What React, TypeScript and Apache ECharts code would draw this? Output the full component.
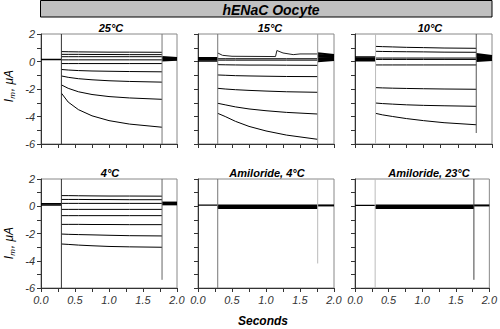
import React, { useEffect, useRef } from 'react';
import * as echarts from 'echarts';

// ---------- data ----------
const panelTitles = ['25°C', '15°C', '10°C', '4°C', 'Amiloride, 4°C', 'Amiloride, 23°C'];
const mainTitle = 'hENaC Oocyte';
const xName = 'Seconds';

// 25 °C
const hold25 = [0.15];
const t25 = [0.3, 0.4, 0.55, 0.75, 1.0, 1.3, 1.78];
const traces25 = [
  [0.72, 0.71, 0.7, 0.69, 0.68, 0.68, 0.67],
  [0.52, 0.52, 0.52, 0.51, 0.51, 0.5, 0.5],
  [0.35, 0.35, 0.35, 0.35, 0.35, 0.35, 0.35],
  [0.12, 0.12, 0.12, 0.12, 0.12, 0.12, 0.12],
  [-0.15, -0.15, -0.15, -0.15, -0.15, -0.15, -0.15],
  [-0.58, -0.62, -0.66, -0.69, -0.71, -0.73, -0.75],
  [-1.05, -1.15, -1.25, -1.33, -1.4, -1.45, -1.5],
  [-1.7, -1.95, -2.2, -2.4, -2.55, -2.65, -2.75],
  [-2.3, -2.95, -3.5, -3.95, -4.3, -4.55, -4.78],
];
const tailStart25 = [0.32, 0.24, 0.16, 0.08];
const tailEnd25 = [0.26, 0.21, 0.17, 0.12];
const onRange25 = [2, -6];
const offRange25 = [2, -6];

// 15 °C
const hold15 = [0.28, 0.2, 0.12, 0.04];
const t15 = [0.29, 0.4, 0.55, 0.75, 1.0, 1.3, 1.76];
const traces15 = [
  [0.2, 0.2, 0.2, 0.2, 0.2, 0.2, 0.2],
  [0.1, 0.1, 0.1, 0.1, 0.1, 0.1, 0.1],
  [-0.23, -0.24, -0.25, -0.26, -0.26, -0.27, -0.28],
  [-0.98, -1.0, -1.03, -1.05, -1.07, -1.09, -1.1],
  [-1.95, -2.0, -2.05, -2.1, -2.15, -2.2, -2.24],
  [-3.04, -3.15, -3.3, -3.45, -3.58, -3.7, -3.82],
  [-3.77, -4.0, -4.35, -4.72, -5.05, -5.35, -5.66],
];
const noisyT15 = [0.29, 0.36, 0.5, 1.14, 1.16, 1.25, 1.4, 1.5, 1.76];
const noisyV15 = [0.62, 0.45, 0.38, 0.36, 0.8, 0.62, 0.5, 0.55, 0.55];
const tailStart15 = [0.6, 0.48, 0.36, 0.24, 0.12, 0.02];
const tailEnd15 = [0.48, 0.4, 0.32, 0.25, 0.17, 0.1];
const onRange15 = [2, -6];
const offRange15 = [2, -6];

// 10 °C
const hold10 = [0.33, 0.24, 0.15, 0.06];
const t10 = [0.3, 0.4, 0.55, 0.75, 1.0, 1.3, 1.77];
const traces10 = [
  [1.1, 1.08, 1.06, 1.03, 1.01, 0.98, 0.96],
  [0.74, 0.73, 0.72, 0.71, 0.7, 0.68, 0.67],
  [0.25, 0.25, 0.25, 0.25, 0.25, 0.25, 0.25],
  [0.15, 0.15, 0.15, 0.15, 0.15, 0.15, 0.15],
  [-0.25, -0.25, -0.25, -0.25, -0.25, -0.25, -0.25],
  [-1.9, -1.92, -1.94, -1.96, -1.98, -2.0, -2.02],
  [-3.02, -3.06, -3.1, -3.15, -3.19, -3.22, -3.26],
  [-3.77, -3.88, -4.0, -4.15, -4.3, -4.45, -4.6],
];
const tailStart10 = [0.55, 0.44, 0.33, 0.22, 0.12, 0.04];
const tailEnd10 = [0.4, 0.34, 0.28, 0.22, 0.16, 0.1];
const onRange10 = [2, -6];
const offRange10 = [2, -5.2];

// 4 °C
const hold4 = [0.18, 0.1];
const t4 = [0.3, 0.4, 0.55, 0.75, 1.0, 1.3, 1.78];
const traces4 = [
  [0.78, 0.78, 0.77, 0.76, 0.75, 0.75, 0.74],
  [0.5, 0.5, 0.5, 0.49, 0.49, 0.48, 0.48],
  [0.21, 0.21, 0.21, 0.21, 0.21, 0.21, 0.21],
  [-0.23, -0.23, -0.23, -0.23, -0.23, -0.23, -0.23],
  [-0.69, -0.69, -0.69, -0.69, -0.69, -0.69, -0.69],
  [-1.33, -1.33, -1.33, -1.34, -1.34, -1.35, -1.35],
  [-2.04, -2.06, -2.08, -2.1, -2.13, -2.16, -2.18],
  [-2.77, -2.8, -2.85, -2.9, -2.95, -2.98, -3.01],
];
const tailStart4 = [0.27, 0.2, 0.14];
const tailEnd4 = [0.27, 0.2, 0.14];
const onRange4 = [2, -6];
const offRange4 = [2, -5.4];

// Amiloride, 4 °C
const holdA4 = [0.08];
const tA4 = [0.29, 1.76];
const tracesA4 = [
  [0.08, 0.08],
  [0.02, 0.02],
  [-0.04, -0.04],
  [-0.1, -0.1],
  [-0.15, -0.15],
];
const tailStartA4 = [0.06];
const tailEndA4 = [0.06];
const onRangeA4 = [2, -6];
const offRangeA4 = [2, -4.2];

// Amiloride, 23 °C
const holdA23 = [0.06];
const tA23 = [0.3, 1.77];
const tracesA23 = [
  [0.08, 0.08],
  [0.02, 0.02],
  [-0.04, -0.04],
  [-0.1, -0.1],
  [-0.15, -0.15],
];
const tailStartA23 = [0.06];
const tailEndA23 = [0.06];
const onRangeA23 = [2, -6];
const offRangeA23 = [2, -5.4];

// ---------- layout / style ----------
const FONT = '"Liberation Sans", Arial, sans-serif';
const colLeft = [41, 198, 355];
const colWidth = [136, 136, 137];
const rowTop = [34, 179];
const rowHeight = [110, 109];
const titleX = [111, 270, 430, 110, 267, 429];
const titleY = [28, 28, 28, 173, 173, 173];

type Panel = {
  hold: number[];
  t: number[];
  traces: number[][];
  tailStart: number[];
  tailEnd: number[];
  onRange: number[];
  offRange: number[];
  onColor: string;
  offColor: string;
  holdWidth: number;
  stepWidth: number;
};

const panels: Panel[] = [
  { hold: hold25, t: t25, traces: traces25, tailStart: tailStart25, tailEnd: tailEnd25, onRange: onRange25, offRange: offRange25, onColor: '#333', offColor: '#777', holdWidth: 1.5, stepWidth: 1 },
  { hold: hold15, t: t15, traces: traces15, tailStart: tailStart15, tailEnd: tailEnd15, onRange: onRange15, offRange: offRange15, onColor: '#777', offColor: '#999', holdWidth: 1.5, stepWidth: 1 },
  { hold: hold10, t: t10, traces: traces10, tailStart: tailStart10, tailEnd: tailEnd10, onRange: onRange10, offRange: offRange10, onColor: '#bbb', offColor: '#555', holdWidth: 1.5, stepWidth: 1 },
  { hold: hold4, t: t4, traces: traces4, tailStart: tailStart4, tailEnd: tailEnd4, onRange: onRange4, offRange: offRange4, onColor: '#333', offColor: '#666', holdWidth: 1.5, stepWidth: 1 },
  { hold: holdA4, t: tA4, traces: tracesA4, tailStart: tailStartA4, tailEnd: tailEndA4, onRange: onRangeA4, offRange: offRangeA4, onColor: '#777', offColor: '#bbb', holdWidth: 1.2, stepWidth: 1.5 },
  { hold: holdA23, t: tA23, traces: tracesA23, tailStart: tailStartA23, tailEnd: tailEndA23, onRange: onRangeA23, offRange: offRangeA23, onColor: '#bbb', offColor: '#444', holdWidth: 1.2, stepWidth: 1.5 },
];

function lineSeries(idx: number, data: number[][], color: string, width: number) {
  return {
    type: 'line',
    xAxisIndex: idx,
    yAxisIndex: idx,
    data,
    showSymbol: false,
    symbol: 'none',
    clip: true,
    silent: true,
    lineStyle: { color, width },
    z: 3,
  };
}

function buildOption() {
  const grids: any[] = [];
  const xAxes: any[] = [];
  const yAxes: any[] = [];
  const series: any[] = [];
  for (let i = 0; i < 6; i++) {
    const r = Math.floor(i / 3);
    const c = i % 3;
    grids.push({
      left: colLeft[c],
      top: rowTop[r],
      width: colWidth[c],
      height: rowHeight[r],
      show: true,
      borderColor: '#888',
      borderWidth: 1,
      backgroundColor: 'transparent',
    });
    xAxes.push({
      type: 'value',
      gridIndex: i,
      min: 0,
      max: 2,
      interval: 0.25,
      axisLine: { show: true, onZero: false, lineStyle: { color: '#333', width: 1 } },
      axisTick: { show: true, length: 4, lineStyle: { color: '#333' } },
      splitLine: { show: false },
      axisLabel: {
        show: r === 1,
        margin: 6,
        fontSize: 11,
        fontStyle: 'italic',
        fontFamily: FONT,
        color: '#333',
        formatter: (v: number) => (Math.abs(v * 2 - Math.round(v * 2)) < 1e-6 ? v.toFixed(1) : ''),
      },
    });
    yAxes.push({
      type: 'value',
      gridIndex: i,
      min: -6,
      max: 2,
      interval: 1,
      axisLine: { show: true, onZero: false, lineStyle: { color: '#333', width: 1 } },
      axisTick: { show: true, length: 4, lineStyle: { color: '#333' } },
      splitLine: { show: false },
      axisLabel: {
        show: c === 0,
        margin: 6,
        fontSize: 11,
        fontStyle: 'italic',
        fontFamily: FONT,
        color: '#333',
        formatter: (v: number) => (Math.round(v) % 2 === 0 ? String(v) : ''),
      },
    });

    const p = panels[i];
    const tOn = p.t[0];
    const tOff = p.t[p.t.length - 1];
    p.hold.forEach((v) => series.push(lineSeries(i, [[0, v], [tOn, v]], '#000', p.holdWidth)));
    p.traces.forEach((tr) =>
      series.push(lineSeries(i, p.t.map((x, k) => [x, tr[k]]), '#000', p.stepWidth))
    );
    if (i === 1) {
      series.push(lineSeries(i, noisyT15.map((x, k) => [x, noisyV15[k]]), '#222', 1));
    }
    p.tailStart.forEach((v, k) =>
      series.push(lineSeries(i, [[tOff, v], [2, p.tailEnd[k]]], '#000', 2))
    );
    series.push(lineSeries(i, [[tOn, p.onRange[0]], [tOn, p.onRange[1]]], p.onColor, 1));
    series.push(lineSeries(i, [[tOff, p.offRange[0]], [tOff, p.offRange[1]]], p.offColor, 1));
  }

  const graphic: any[] = [
    {
      type: 'rect',
      shape: { x: 40.5, y: 0.5, width: 451.5, height: 16.5 },
      style: { fill: '#c0c0c0', stroke: '#000', lineWidth: 1 },
    },
    {
      type: 'text',
      x: 271,
      y: 9.5,
      style: {
        text: mainTitle,
        fill: '#000',
        fontSize: 14,
        fontWeight: 'bold',
        fontStyle: 'italic',
        fontFamily: FONT,
        align: 'center',
        verticalAlign: 'middle',
      },
    },
    {
      type: 'text',
      x: 263,
      y: 321,
      style: {
        text: xName,
        fill: '#000',
        fontSize: 12,
        fontWeight: 'bold',
        fontStyle: 'italic',
        fontFamily: FONT,
        align: 'center',
        verticalAlign: 'middle',
      },
    },
  ];
  panelTitles.forEach((t, i) => {
    graphic.push({
      type: 'text',
      x: titleX[i],
      y: titleY[i],
      style: {
        text: t,
        fill: '#000',
        fontSize: 11,
        fontWeight: 'bold',
        fontStyle: 'italic',
        fontFamily: FONT,
        align: 'center',
        verticalAlign: 'middle',
      },
    });
  });
  [86, 243].forEach((y) => {
    graphic.push({
      type: 'text',
      x: 9,
      y,
      rotation: Math.PI / 2,
      style: {
        text: '{a|I}{b|m}{a|, μA}',
        fill: '#000',
        align: 'center',
        verticalAlign: 'middle',
        rich: {
          a: { fontSize: 12, fontStyle: 'italic', fontFamily: FONT, fill: '#000', lineHeight: 16 },
          b: { fontSize: 8, fontStyle: 'italic', fontFamily: FONT, fill: '#000', padding: [7, 1, 0, 0], lineHeight: 16 },
        },
      },
    });
  });

  return {
    animation: false,
    backgroundColor: '#fff',
    grid: grids,
    xAxis: xAxes,
    yAxis: yAxes,
    series,
    graphic,
  };
}

export default function App() {
  const ref = useRef<HTMLDivElement>(null);
  useEffect(() => {
    if (!ref.current) return;
    const chart = echarts.init(ref.current, undefined, { renderer: 'svg' });
    chart.setOption(buildOption() as any);
    return () => chart.dispose();
  }, []);
  return (
    <div
      ref={ref}
      style={{ position: 'absolute', left: 0, top: 0, width: 500, height: 329 }}
    />
  );
}
